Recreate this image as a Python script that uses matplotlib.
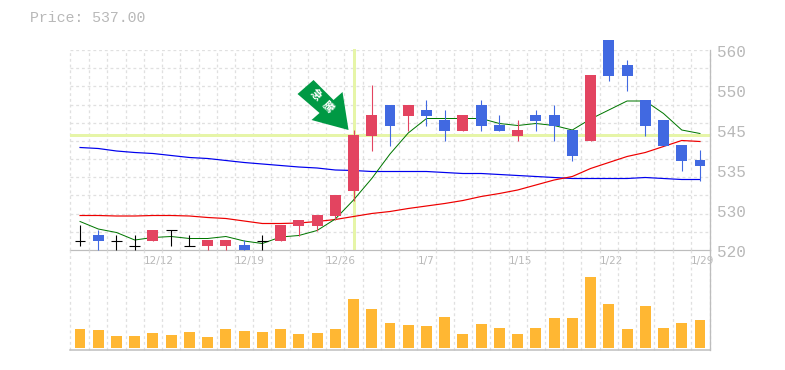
import matplotlib
matplotlib.use("Agg")
import matplotlib.pyplot as plt
from matplotlib.patches import Polygon, Rectangle
from matplotlib.transforms import IdentityTransform, Affine2D

W, H = 785, 370
title = "Price: 537.00"
price_ticks = [520, 528, 536, 544, 552, 560]
price_labels = ["520", "530", "535", "545", "550", "560"]
date_idx = [4, 9, 14, 19, 24, 29, 34]
date_labels = ["12/12", "12/19", "12/26", "1/7", "1/15", "1/22", "1/29"]

opens = [521.9, 523, 521.9, 520.9, 521.8, 524, 520.9, 520.8, 520.8, 521, 521.9, 521.8, 524.8, 524.8, 526.8,
         531.8, 542.8, 549, 546.8, 548, 546, 543.8, 549, 545, 542.8, 547, 547, 544, 541.8, 562, 557, 550, 546, 541, 538]
closes = [521.9, 521.8, 521.9, 520.9, 524, 524, 520.9, 522, 522, 520, 521.9, 525, 526, 527, 531,
          543, 547, 544.8, 549, 546.8, 543.8, 547, 544.8, 543.8, 544, 545.8, 544.8, 538.8, 555, 554.8, 554.8, 544.8, 540.8, 537.8, 536.8]
highs = [525, 524, 523, 523, 524, 524, 523, 522, 522, 522, 523, 525, 526, 527, 531,
         544, 553, 549, 549, 550, 548, 547, 550, 547, 546, 548, 549, 544, 555, 562, 558, 550, 546, 541, 540]
lows = [520.9, 520, 520, 520, 521.8, 520.9, 520.9, 520, 520, 520, 520, 521.8, 522.9, 523.9, 526,
        529.8, 539.8, 540.8, 543.8, 544.8, 541.8, 543.8, 543.8, 543.8, 541.8, 543.8, 541.8, 537.8, 541.8, 553.8, 551.8, 542.8, 540.8, 535.8, 533.8]
ma_short = [525.7, 524.2, 523.5, 522, 522.5, 522.7, 522.3, 522.3, 522.7, 521.8, 521.3, 522.6, 522.9, 523.9, 526.2,
            530, 534.3, 539.2, 543.4, 546.3, 546.3, 546.3, 546.3, 545.3, 544.9, 545.3, 544.9, 544, 546.2, 548, 549.8, 549.8, 547.3, 544, 543.3]
ma_mid = [526.9, 526.9, 526.8, 526.8, 526.9, 526.9, 526.8, 526.5, 526.3, 525.8, 525.3, 525.3, 525.4, 525.7, 526.1,
          526.7, 527.3, 527.7, 528.3, 528.8, 529.3, 529.9, 530.7, 531.3, 532, 533, 534, 534.7, 536.3, 537.5, 538.7, 539.5, 540.7, 541.9, 541.7]
ma_long = [540.5, 540.3, 539.8, 539.5, 539.3, 538.9, 538.5, 538.3, 537.9, 537.5, 537.2, 536.9, 536.6, 536.4, 536,
           535.9, 535.7, 535.7, 535.7, 535.7, 535.5, 535.3, 535.3, 535.1, 534.9, 534.7, 534.5, 534.3, 534.3, 534.3, 534.3, 534.5, 534.3, 534.1, 534.1]
volume = [19, 18, 12, 12, 15, 13, 16, 11, 19, 17, 16, 19, 14, 15, 19, 49, 39,
          25, 23, 22, 31, 14, 24, 20, 14, 20, 30, 30, 71, 44, 19, 42, 20, 25, 28]
signal_idx = 15
signal_price = 543
signal_chars = ["急", "騰"]

UP, DOWN, DOJI = "#E34460", "#4169E1", "#000000"
GRID, AXIS, TXT = "#E0E0E0", "#BDBDBD", "#B8B8B8"
HILITE = "#E6F5A8"
PX = 0.72
n = len(closes)
mono = "Liberation Mono"

fig = plt.figure(figsize=(W / 100, H / 100), dpi=100, facecolor="white")
def panel(x0, y0, x1, y1):
    return fig.add_axes([x0 / W, 1 - y1 / H, (x1 - x0) / W, (y1 - y0) / H])

ax = panel(70, 50, 710, 250)
av = panel(70, 250, 710, 350)
xlim = (-0.55, n - 1 + 0.55)
bounds = [i - 0.5 for i in range(n)] + [n - 0.45]
bounds[0] = -0.55

dash = (0, (2.2, 2.2))
for a in (ax, av):
    a.set_xlim(*xlim)
    a.set_facecolor("none")
    for s in a.spines.values():
        s.set_visible(False)
    a.vlines(bounds, 0, 1, transform=a.get_xaxis_transform(), color=GRID, lw=PX * 1.3,
             linestyles=dash, zorder=0, clip_on=False)
    a.tick_params(length=0)
ax.set_ylim(520, 560)
av.set_ylim(-2, 98)
ax.hlines([520 + 40 * k / 11 for k in range(1, 12)], *xlim, color=GRID, lw=PX * 1.3,
          linestyles=dash, zorder=0)

# highlights
ax.axhline(signal_price, color=HILITE, lw=PX * 3, zorder=1)
ax.plot([signal_idx, signal_idx], [520.3, 560], color=HILITE, lw=PX * 3, zorder=1, clip_on=False)

# moving averages
ax.plot(range(n), ma_long, color="#0000EE", lw=PX * 1.2, zorder=2)
ax.plot(range(n), ma_mid, color="#EE0000", lw=PX * 1.2, zorder=2)
ax.plot(range(n), ma_short, color="#007700", lw=PX * 1.0, zorder=2)

# candles
for i in range(n):
    o, c, h, l = opens[i], closes[i], highs[i], lows[i]
    col = DOJI if o == c else (UP if c > o else DOWN)
    ax.plot([i, i], [l, h], color=col, lw=PX * 1.1, zorder=3, clip_on=False, solid_capstyle="butt")
    if o == c:
        ax.plot([i - 0.3, i + 0.3], [c, c], color=col, lw=PX * 1.1, zorder=4, solid_capstyle="butt")
    else:
        ax.add_patch(Rectangle((i - 0.3, min(o, c)), 0.6, abs(c - o), facecolor=col,
                               edgecolor="none", zorder=4, clip_on=False))

# signal arrow (outline in pixels relative to its tip)
tip_x, tip_y = ax.transData.transform((signal_idx, signal_price))
arrow_px = [(0, 0), (-37, 10), (-29, 17), (-51, 36), (-35, 50), (-15, 30), (-6, 38)]
arrow_xy = [(tip_x - 5 + dx, tip_y + 5 + dy) for dx, dy in arrow_px]
fig.add_artist(Polygon(arrow_xy, closed=True, facecolor="#009944", edgecolor="none",
                       transform=IdentityTransform(), zorder=5))
for ch, (dx, dy) in zip(signal_chars, [(-33, 35), (-21, 23)]):
    fig.text((tip_x - 5 + dx) / W, (tip_y + 5 + dy) / H, ch, family=["Noto Sans CJK JP", "DejaVu Sans"],
             color="white", fontsize=8, fontweight="bold", rotation=-45, rotation_mode="anchor",
             ha="center", va="center", zorder=6)

# volume
av.bar(range(n), volume, width=0.6, color="#FFB733", zorder=3)

# axes lines
ax.plot([0, 1], [0, 0], transform=ax.transAxes, color=AXIS, lw=PX * 1.2, zorder=2, clip_on=False)
av.plot([0, 1], [0, 0], transform=av.transAxes, color=AXIS, lw=PX * 1.5, zorder=4, clip_on=False)
for a in (ax, av):
    a.plot([1, 1], [0, 1], transform=a.transAxes, color=AXIS, lw=PX * 1.3, zorder=4, clip_on=False)

# ticks
ax.yaxis.tick_right()
ax.set_yticks(price_ticks, price_labels, fontsize=11.5, color=TXT, family=mono)
ax.tick_params(axis="y", pad=5)
for lab in ax.get_yticklabels():
    lab.set_verticalalignment("center")
    lab.set_transform(lab.get_transform() + Affine2D().translate(0, -2.5))
ax.set_xticks([])
av.set_yticks([])
for i, lab in zip(date_idx, date_labels):
    ax.annotate(lab, (i - 0.5, 0), xycoords=("data", "axes fraction"), xytext=(0, -6),
                textcoords="offset pixels", ha="left", va="top", fontsize=7.5, color=TXT,
                family="DejaVu Sans")
av.set_xticks([])

fig.text(30 / W, 1 - 18 / H, title, color=TXT, fontsize=10.7, family=mono, va="center", ha="left")
fig.savefig("out.png", dpi=100, facecolor="white")
